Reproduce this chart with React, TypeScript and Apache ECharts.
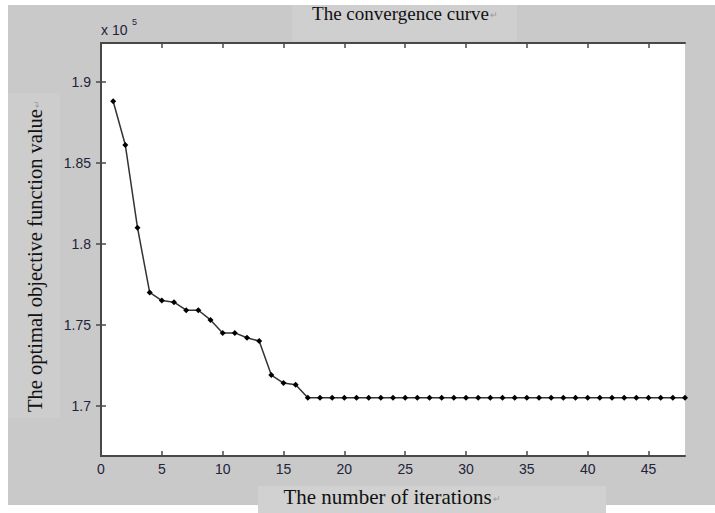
import React, { useEffect, useRef } from "react";
import * as echarts from "echarts";

// Iteration numbers (x axis)
const iterations = [
  1, 2, 3, 4, 5, 6, 7, 8, 9, 10, 11, 12, 13, 14, 15, 16, 17, 18, 19, 20, 21, 22, 23, 24,
  25, 26, 27, 28, 29, 30, 31, 32, 33, 34, 35, 36, 37, 38, 39, 40, 41, 42, 43, 44, 45, 46, 47, 48,
];

// Optimal objective function value (x 10^5)
const objectiveValues = [
  1.888, 1.861, 1.810, 1.770, 1.765, 1.764, 1.759, 1.759, 1.753, 1.745, 1.745, 1.742,
  1.740, 1.719, 1.714, 1.713, 1.705, 1.705, 1.705, 1.705, 1.705, 1.705, 1.705, 1.705,
  1.705, 1.705, 1.705, 1.705, 1.705, 1.705, 1.705, 1.705, 1.705, 1.705, 1.705, 1.705,
  1.705, 1.705, 1.705, 1.705, 1.705, 1.705, 1.705, 1.705, 1.705, 1.705, 1.705, 1.705,
];

const xTicks = [0, 5, 10, 15, 20, 25, 30, 35, 40, 45];
const yTicks = [1.7, 1.75, 1.8, 1.85, 1.9];

const titleText = "The convergence curve";
const xLabelText = "The number of iterations";
const yLabelText = "The optimal objective function value";
const returnMark = "↵";

export default function App() {
  const ref = useRef<HTMLDivElement>(null);

  useEffect(() => {
    if (!ref.current) return;
    const chart = echarts.init(ref.current, undefined, { renderer: "svg" });
    const axisColor = "#484848";
    const labelColor = "#23233a";
    const sans = "'Liberation Sans', Arial, sans-serif";
    const serif = "'Liberation Serif', 'Times New Roman', serif";

    const common = {
      type: "value" as const,
      axisLine: { show: true, lineStyle: { color: axisColor, width: 2 } },
      splitLine: { show: false },
    };

    const tick = (vals: number[]) => ({
      show: true,
      inside: true,
      length: 5,
      customValues: vals,
      lineStyle: { color: axisColor, width: 1.5 },
    });

    const richLabel = (text: string, size: number, x: number, y: number, rotation = 0) => ({
      type: "text",
      x,
      y,
      rotation,
      z: 100,
      style: {
        text: `{m|${text}}{r|${returnMark}}`,
        align: "center",
        verticalAlign: "middle",
        rich: {
          m: { fontFamily: serif, fontSize: size, fill: "#111111", color: "#111111" },
          r: { fontFamily: sans, fontSize: 9, fill: "#9a9a9a", color: "#9a9a9a", padding: [4, 0, 0, 1] },
        },
      },
    });

    chart.setOption({
      animation: false,
      backgroundColor: "transparent",
      grid: {
        left: 101,
        right: 30,
        top: 43,
        bottom: 57,
        show: true,
        backgroundColor: "#ffffff",
        borderWidth: 0,
      },
      xAxis: [
        {
          ...common,
          position: "bottom",
          min: 0,
          max: 48,
          axisTick: tick(xTicks),
          axisLabel: {
            show: true,
            customValues: xTicks,
            color: labelColor,
            fontFamily: sans,
            fontSize: 14,
            margin: 6,
          },
        },
        {
          ...common,
          position: "top",
          min: 0,
          max: 48,
          axisTick: tick(xTicks),
          axisLabel: { show: false },
        },
      ],
      yAxis: [
        {
          ...common,
          position: "left",
          min: 1.669,
          max: 1.924,
          axisTick: tick(yTicks),
          axisLabel: {
            show: true,
            customValues: yTicks,
            color: labelColor,
            fontFamily: sans,
            fontSize: 14,
            margin: 10,
          },
        },
        {
          ...common,
          position: "right",
          min: 1.669,
          max: 1.924,
          axisTick: tick(yTicks),
          axisLabel: { show: false },
        },
      ],
      series: [
        {
          type: "line",
          xAxisIndex: 0,
          yAxisIndex: 0,
          data: iterations.map((it, i) => [it, objectiveValues[i]]),
          symbol: "diamond",
          symbolSize: 6,
          itemStyle: { color: "#000000" },
          lineStyle: { color: "#333333", width: 1.5 },
          clip: false,
        },
      ],
      graphic: [
        richLabel(titleText, 19, 405, 13),
        {
          type: "text",
          x: 101,
          y: 30,
          z: 100,
          style: {
            text: "x 10",
            font: `14px ${sans}`,
            fill: labelColor,
            align: "left",
            verticalAlign: "middle",
          },
        },
        {
          type: "text",
          x: 132,
          y: 22,
          z: 100,
          style: {
            text: "5",
            font: `9px ${sans}`,
            fill: labelColor,
            align: "left",
            verticalAlign: "middle",
          },
        },
        richLabel(yLabelText, 20.5, 35, 256, Math.PI / 2),
        richLabel(xLabelText, 21, 392, 497),
      ],
    });

    return () => chart.dispose();
  }, []);

  return (
    <div style={{ position: "fixed", left: 0, top: 0, width: 715, height: 513, background: "#ffffff", overflow: "hidden" }}>
      <div style={{ position: "absolute", left: 8, top: 5, width: 707, height: 500, background: "#c9c9c9" }} />
      <div style={{ position: "absolute", left: 292, top: 5, width: 225, height: 36, background: "#cfcfcf" }} />
      <div style={{ position: "absolute", left: 8, top: 93, width: 52, height: 325, background: "#cdcdcd" }} />
      <div style={{ position: "absolute", left: 258, top: 486, width: 348, height: 27, background: "#d1d1d1" }} />
      <div ref={ref} style={{ position: "absolute", left: 0, top: 0, width: 715, height: 513 }} />
    </div>
  );
}
